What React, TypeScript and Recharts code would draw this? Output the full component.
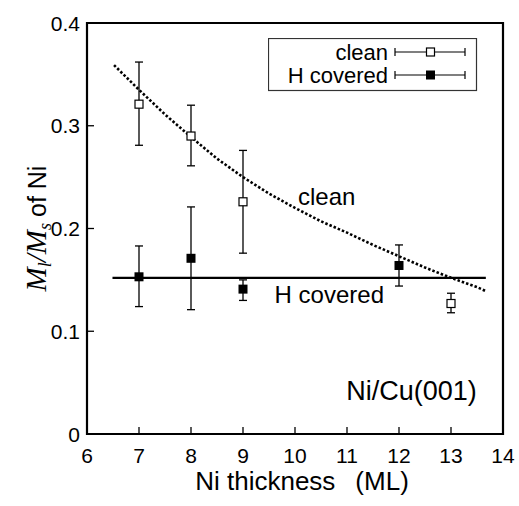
import {
  ScatterChart, Scatter, XAxis, YAxis, ErrorBar,
  ReferenceArea, ReferenceDot, Legend,
} from "recharts"

const xTicks = [6, 7, 8, 9, 10, 11, 12, 13, 14]
const yTicks = [0, 0.1, 0.2, 0.3, 0.4]
const xInnerTicks = [7, 8, 9, 10, 11, 12, 13]
const yInnerTicks = [0.1, 0.2, 0.3]

// clean Ni film
const cleanThick = [7, 8, 9, 13]
const cleanVal = [0.321, 0.29, 0.226, 0.127]
const cleanLow = [0.281, 0.261, 0.176, 0.118]
const cleanHigh = [0.362, 0.32, 0.276, 0.137]

// H covered
const hThick = [7, 8, 9, 12]
const hVal = [0.153, 0.171, 0.141, 0.164]
const hLow = [0.124, 0.121, 0.13, 0.144]
const hHigh = [0.183, 0.221, 0.15, 0.184]

// fit curves
const fitThick = [6.52, 7, 7.5, 8, 8.5, 9, 9.5, 10, 10.5, 11, 11.5, 12, 12.5, 13, 13.5, 13.67]
const fitClean = [0.359, 0.335, 0.311, 0.289, 0.268, 0.25, 0.234, 0.22, 0.207, 0.196, 0.184, 0.173, 0.162, 0.152, 0.143, 0.139]
const hLineThick = [6.49, 13.67]
const hLineVal = [0.152, 0.152]

const withErr = (xs: number[], v: number[], lo: number[], hi: number[]) =>
  xs.map((x, i) => ({ x, y: v[i], err: [v[i] - lo[i], hi[i] - v[i]] }))

const cleanData = withErr(cleanThick, cleanVal, cleanLow, cleanHigh)
const hData = withErr(hThick, hVal, hLow, hHigh)
const fitData = fitThick.map((x, i) => ({ x, y: fitClean[i] }))
const hLineData = hLineThick.map((x, i) => ({ x, y: hLineVal[i] }))

const TICK = 7

const BottomTick = (p: any) => (
  <g>
    <line x1={p.x} x2={p.x} y1={p.y} y2={p.y - TICK} stroke="#000" strokeWidth={1.3} />
    <text x={p.x} y={p.y + 29} textAnchor="middle" fontSize={21} fill="#000">
      {p.payload.value}
    </text>
  </g>
)

const LeftTick = (p: any) => (
  <g>
    <line x1={p.x} x2={p.x + TICK} y1={p.y} y2={p.y} stroke="#000" strokeWidth={1.3} />
    <text x={p.x - 7} y={p.y + 7.5} textAnchor="end" fontSize={21} fill="#000">
      {p.payload.value}
    </text>
  </g>
)

const TopTick = (p: any) => (
  <line x1={p.x} x2={p.x} y1={p.y} y2={p.y + TICK} stroke="#000" strokeWidth={1.3} />
)

const RightTick = (p: any) => (
  <line x1={p.x} x2={p.x - TICK} y1={p.y} y2={p.y} stroke="#000" strokeWidth={1.3} />
)

const OpenSquare = (p: any) => (
  <rect x={p.cx - 4} y={p.cy - 4} width={8} height={8} fill="#fff" stroke="#000" strokeWidth={1.2} />
)

const FilledSquare = (p: any) => (
  <rect x={p.cx - 4.5} y={p.cy - 4.5} width={9} height={9} fill="#000" />
)

const NoShape = () => <g />

const XTitle = ({ viewBox }: any) => (
  <text x={viewBox.x + viewBox.width / 2 + 7} y={viewBox.y + 56} textAnchor="middle" fontSize={26} fill="#000">
    <tspan>Ni thickness</tspan>
    <tspan dx={20}>(ML)</tspan>
  </text>
)

const YTitle = ({ viewBox }: any) => {
  const cx = 46
  const cy = viewBox.y + viewBox.height / 2
  const serif = { fontFamily: '"Liberation Serif", serif', fontStyle: "italic" as const }
  return (
    <text transform={`translate(${cx},${cy}) rotate(-90)`} textAnchor="middle" fontSize={25} fill="#000">
      <tspan {...serif} fontSize={29}>M</tspan>
      <tspan {...serif} fontSize={18} dy={5}>l</tspan>
      <tspan {...serif} fontSize={29} dy={-5}>/M</tspan>
      <tspan {...serif} fontSize={18} dy={5}>s</tspan>
      <tspan dy={-5} dx={6}>of Ni</tspan>
    </text>
  )
}

const LegendBox = () => {
  const rows = [
    { label: "clean", filled: false, y: 14 },
    { label: "H covered", filled: true, y: 37 },
  ]
  return (
    <svg width={210} height={54} style={{ display: "block" }}>
      <rect x={0.5} y={0.5} width={208} height={52} fill="#fff" stroke="#333" strokeWidth={1.2} />
      {rows.map((r) => (
        <g key={r.label}>
          <text x={120} y={r.y + 7.5} textAnchor="end" fontSize={22} fill="#000">{r.label}</text>
          <line x1={127} x2={197} y1={r.y} y2={r.y} stroke="#000" strokeWidth={1.2} />
          <line x1={127} x2={127} y1={r.y - 4} y2={r.y + 4} stroke="#000" strokeWidth={1.2} />
          <line x1={197} x2={197} y1={r.y - 4} y2={r.y + 4} stroke="#000" strokeWidth={1.2} />
          {r.filled
            ? <rect x={158} y={r.y - 4.5} width={9} height={9} fill="#000" />
            : <rect x={158.5} y={r.y - 4} width={8} height={8} fill="#fff" stroke="#000" strokeWidth={1.2} />}
        </g>
      ))}
    </svg>
  )
}

export default function App() {
  return (
    <div style={{
      position: "absolute", left: 0, top: 0, width: 519, height: 506, background: "#fff",
      fontFamily: '"Liberation Sans", Arial, sans-serif',
    }}>
      <ScatterChart width={519} height={506} margin={{ top: 23, right: 16, bottom: 0, left: 0 }}>
        <XAxis
          xAxisId="b" dataKey="x" type="number" domain={[6, 14]} ticks={xTicks}
          height={72} tickSize={0} tickMargin={0} axisLine={false} tickLine={false}
          tick={BottomTick} interval={0} allowDataOverflow label={<XTitle />}
        />
        <XAxis
          xAxisId="t" orientation="top" dataKey="x" type="number" domain={[6, 14]} ticks={xInnerTicks}
          height={0} tickSize={0} tickMargin={0} axisLine={false} tickLine={false}
          tick={TopTick} interval={0} allowDataOverflow
        />
        <YAxis
          yAxisId="l" dataKey="y" type="number" domain={[0, 0.4]} ticks={yTicks}
          width={87} tickSize={0} tickMargin={0} axisLine={false} tickLine={false}
          tick={LeftTick} interval={0} allowDataOverflow label={<YTitle />}
        />
        <YAxis
          yAxisId="r" orientation="right" dataKey="y" type="number" domain={[0, 0.4]} ticks={yInnerTicks}
          width={0} tickSize={0} tickMargin={0} axisLine={false} tickLine={false}
          tick={RightTick} interval={0} allowDataOverflow
        />

        <Scatter
          xAxisId="b" yAxisId="l" data={hLineData} shape={NoShape}
          line={{ stroke: "#000", strokeWidth: 2.2 }} lineType="joint" isAnimationActive={false}
        />
        <Scatter
          xAxisId="b" yAxisId="l" data={fitData} shape={NoShape}
          line={{ stroke: "#000", strokeWidth: 2.6, strokeDasharray: "2.5 2" }} lineType="joint"
          isAnimationActive={false}
        />
        <Scatter xAxisId="b" yAxisId="l" data={cleanData} shape={OpenSquare} isAnimationActive={false}>
          <ErrorBar dataKey="err" direction="y" width={4} stroke="#000" strokeWidth={1.3} />
        </Scatter>
        <Scatter xAxisId="b" yAxisId="l" data={hData} shape={FilledSquare} isAnimationActive={false}>
          <ErrorBar dataKey="err" direction="y" width={4} stroke="#000" strokeWidth={1.3} />
        </Scatter>

        <ReferenceDot xAxisId="b" yAxisId="l" x={10.61} y={0.2308} r={0} fill="none" stroke="none"
          label={{ value: "clean", position: "center", fontSize: 24, fill: "#000" }} />
        <ReferenceDot xAxisId="b" yAxisId="l" x={10.66} y={0.1357} r={0} fill="none" stroke="none"
          label={{ value: "H covered", position: "center", fontSize: 24, fill: "#000" }} />
        <ReferenceDot xAxisId="b" yAxisId="l" x={12.24} y={0.042} r={0} fill="none" stroke="none"
          label={{ value: "Ni/Cu(001)", position: "center", fontSize: 27, fill: "#000" }} />

        <ReferenceArea xAxisId="b" yAxisId="l" x1={6} x2={14} y1={0} y2={0.4}
          fill="none" stroke="#000" strokeWidth={2.2} />

        <Legend
          layout="vertical" align="center" verticalAlign="middle"
          wrapperStyle={{ left: 268, top: 38, width: 210, height: 54 }}
          content={<LegendBox />}
        />
      </ScatterChart>
    </div>
  )
}
